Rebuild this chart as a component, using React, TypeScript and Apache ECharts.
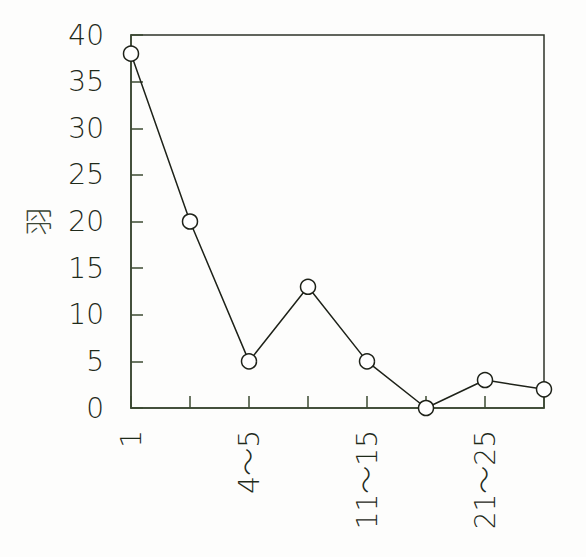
import React, { useEffect, useRef } from "react";
import * as echarts from "echarts";

const categories = ["1", "2〜3", "4〜5", "6〜10", "11〜15", "16〜20", "21〜25", "26〜30"];
const values = [38, 20, 5, 13, 5, 0, 3, 2];
const yName = "羽";

export default function App() {
  const ref = useRef<HTMLDivElement>(null);
  useEffect(() => {
    const chart = echarts.init(ref.current!, null, { renderer: "svg" });
    const axisColor = "#3b4a32";
    const textColor = "#1f2a1a";
    const font = "'DejaVu Sans ExtraLight', 'DejaVu Sans', 'Noto Sans CJK JP', sans-serif";
    chart.setOption({
      animation: false,
      backgroundColor: "#fdfdfc",
      grid: {
        left: 131,
        right: 42,
        top: 35,
        bottom: 149,
        show: true,
        borderColor: "#2e3328",
        borderWidth: 1.5,
        containLabel: false,
      },
      xAxis: {
        type: "category",
        data: categories,
        boundaryGap: false,
        axisLine: { lineStyle: { color: axisColor, width: 1.5 } },
        axisTick: { inside: true, length: 12, interval: 0, lineStyle: { color: axisColor, width: 1.5 } },
        axisLabel: {
          interval: 1,
          rotate: 90,
          margin: 22,
          fontSize: 28,
          fontFamily: font,
          fontWeight: 300,
          color: textColor,
        },
        splitLine: { show: false },
      },
      yAxis: {
        type: "value",
        min: 0,
        max: 40,
        interval: 5,
        name: yName,
        nameLocation: "middle",
        nameGap: 80,
        nameRotate: 90,
        nameTextStyle: { fontSize: 28, color: "#3a4535", fontFamily: "'Noto Sans CJK JP'", fontWeight: 300 },
        axisLine: { show: true, lineStyle: { color: axisColor, width: 1.5 } },
        axisTick: { show: true, inside: true, length: 12, lineStyle: { color: axisColor, width: 1.5 } },
        axisLabel: {
          margin: 27,
          fontSize: 28,
          fontFamily: font,
          fontWeight: 300,
          color: textColor,
        },
        splitLine: { show: false },
      },
      series: [
        {
          type: "line",
          data: values,
          symbol: "circle",
          symbolSize: 15,
          lineStyle: { color: "#1e2219", width: 1.5 },
          itemStyle: { color: "#ffffff", borderColor: "#1e2219", borderWidth: 1.5 },
        },
      ],
    });
    return () => chart.dispose();
  }, []);
  return <div ref={ref} style={{ width: 586, height: 557, position: "absolute", left: 0, top: 0 }} />;
}
